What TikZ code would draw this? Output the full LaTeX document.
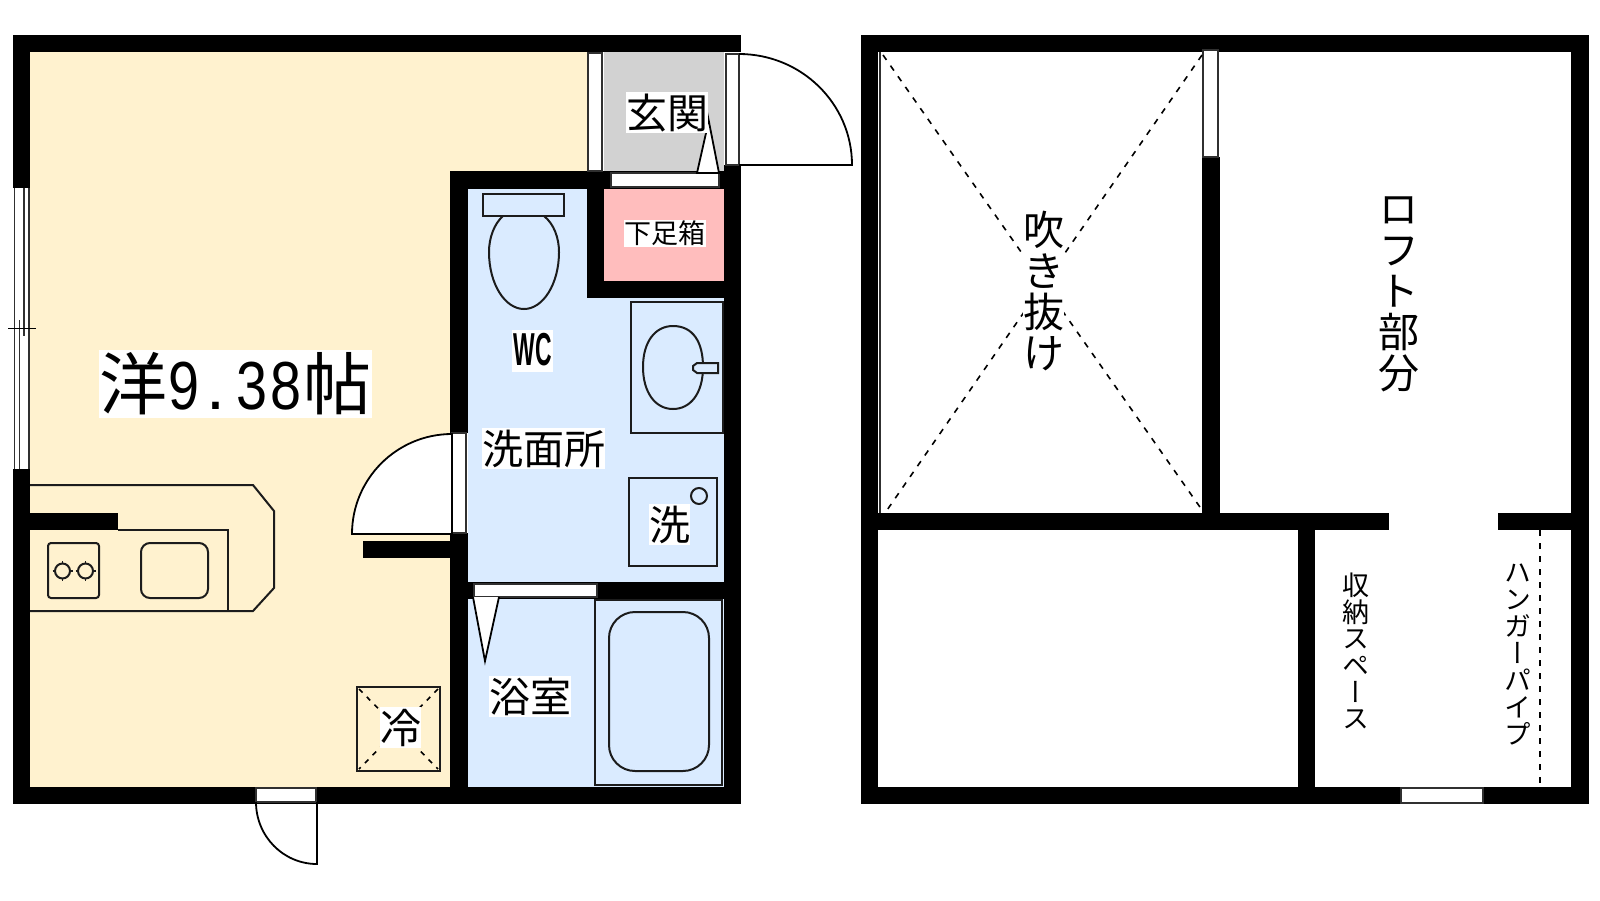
\documentclass[tikz,border=0pt]{standalone}
\usepackage{fontspec}
\usepackage{graphicx}
\setmainfont{Noto Sans CJK JP}
\newfontfamily\latinf{Liberation Sans}
\newfontfamily\vertf[RawFeature=+vert]{Noto Sans CJK JP}
\definecolor{cream}{HTML}{FFF2CF}
\definecolor{bluef}{HTML}{DAEBFF}
\definecolor{pinkf}{HTML}{FFBDBD}
\definecolor{grayf}{HTML}{D2D2D2}
\definecolor{frameline}{HTML}{303030}
\definecolor{fixline}{HTML}{1C1C1C}
\tikzset{
  wallf/.style={fill=black,draw=none},
  thinl/.style={draw=black,line width=1.8pt},
  framel/.style={draw=frameline,line width=1.5pt,fill=white},
  fixl/.style={draw=fixline,line width=2pt},
  dashl/.style={draw=black,line width=1.6pt,dash pattern=on 6pt off 7pt},
  vtext/.style={inner sep=0pt,align=center}
}
\newcommand{\lbl}[7]{\node[fill=white,inner sep=0pt,minimum width=#5pt,minimum height=#6pt,
   text height=#4*0.88 pt,text depth=#4*0.12 pt,font=\fontsize{#4}{#4}\selectfont] (#1) at (#2,#3) {#7};}
\newcommand{\hw}[1]{\makebox[34pt][c]{\latinf\scalebox{.82}[1]{#1}}}
\begin{document}
\begin{tikzpicture}[x=1pt,y=-1pt]
\useasboundingbox (0,0) rectangle (1600,900);
\fill[white] (0,0) rectangle (1600,900);
% room fills
\fill[cream] (30,52) -- (587,52) -- (587,171) -- (450,171) -- (450,787) -- (30,787) -- cycle;
\fill[grayf] (604,52) rectangle (724,171);
\fill[bluef] (468,189) rectangle (724,787);
\fill[pinkf] (604,189) rectangle (724,281);
% walls ground floor
\fill[wallf] (13,35) rectangle (741,52);
\fill[wallf] (13,35) rectangle (30,188);
\fill[wallf] (13,469) rectangle (30,804);
\fill[wallf] (13,787) rectangle (741,804);
\fill[wallf] (724,165) rectangle (741,804);
\fill[wallf] (450,171) rectangle (741,189);
\fill[wallf] (450,171) rectangle (468,433);
\fill[wallf] (450,533) rectangle (468,804);
\fill[wallf] (363,541) rectangle (450,558);
\fill[wallf] (587,171) rectangle (604,298);
\fill[wallf] (587,281) rectangle (741,298);
\fill[wallf] (468,582) rectangle (724,599);
\fill[wallf] (30,513) rectangle (118,530);
% openings ground floor
\draw[framel] (588,53) rectangle (602,171);
\draw[framel] (726,54) rectangle (739,165);
\draw[framel] (611,173) rectangle (719,187);
\draw[framel] (452,433) rectangle (466,533);
\draw[framel] (474,584) rectangle (597,597);
\draw[framel] (256,788) rectangle (316,802);
% left window
\fill[white] (14,188) rectangle (29,469);
\draw[frameline,line width=1.6pt] (14.5,188) -- (14.5,469);
\draw[frameline,line width=1.6pt] (29,188) -- (29,469);
\draw[frameline,line width=1.6pt] (24,188) -- (24,336);
\draw[frameline,line width=1.6pt] (19.5,320) -- (19.5,469);
\draw[thinl] (8,328.5) -- (36,328.5);
% doors
\draw[thinl] (739,54) .. controls (801.4,54) and (852,103.7) .. (852,165) -- (739,165);
\filldraw[thinl,fill=white] (352,534) .. controls (352,478.8) and (396.8,434) .. (452,434) -- (452,534) -- cycle;
\draw[thinl] (256,802) .. controls (256,836) and (283,864) .. (317,864) -- (317,802);
% entrance door wedge
\filldraw[thinl,fill=white] (697,173) -- (706,133) -- (708,117) -- (719,173) -- cycle;
\fill[grayf] (706,133) -- (708,117) -- (704,117) -- (704,133) -- cycle;
% bath door wedge
\filldraw[thinl,fill=white] (473,597) -- (485,661) -- (499,597);
% kitchen
\draw[fixl] (30,485) -- (253,485) -- (274,511) -- (274,588) -- (253,611) -- (30,611);
\draw[fixl] (118,530) -- (228,530) -- (228,611);
\draw[fixl,rounded corners=3pt] (48,543) rectangle (99,598);
\draw[fixl,rounded corners=9pt] (141,543) rectangle (208,598);
\foreach \cx in {62.5,85.5}{
  \draw[fixl,line width=1.5pt] (\cx-10,571) -- (\cx+10,571) (\cx,561) -- (\cx,581);
  \filldraw[fixl,fill=cream] (\cx,571) circle (7.5pt);
}
% fridge
\draw[fixl] (357,687) rectangle (440,771);
\draw[dashl,dash pattern=on 5pt off 6pt] (359,689) -- (438,769);
\draw[dashl,dash pattern=on 5pt off 6pt] (438,689) -- (359,769);
% toilet
\draw[fixl] (483,194) rectangle (564,216);
\draw[fixl] (503,216) .. controls (494,224) and (489,238) .. (489,252)
  .. controls (489,284) and (505,309) .. (524,309)
  .. controls (543,309) and (559,284) .. (559,252)
  .. controls (559,238) and (554,224) .. (544,216);
% sink
\draw[fixl] (631,302) rectangle (723,433);
\draw[fixl] (673,326) .. controls (693,326) and (703,342) .. (703,367)
  .. controls (703,394) and (690,409) .. (673,409)
  .. controls (655,409) and (643,392) .. (643,367)
  .. controls (643,342) and (655,326) .. (673,326) -- cycle;
\filldraw[fixl,fill=bluef] (697,363) -- (718,363) -- (718,373) -- (697,373) -- (693,370) -- (693,366) -- cycle;
% washer
\draw[fixl] (629,478) rectangle (717,566);
\draw[fixl] (699,496) circle (8pt);
% bath
\draw[fixl] (595,600) rectangle (722,785);
\draw[fixl,rounded corners=26pt] (609,612) rectangle (709,771);
% labels ground floor
\lbl{entrance}{667}{112.5}{41}{82}{41}{玄関}
\lbl{shoe}{665}{233.5}{27}{82}{27}{下足箱}
\lbl{wash}{543.5}{448.5}{41}{123}{41}{洗面所}
\lbl{washer}{669.5}{524.5}{41}{41}{41}{洗}
\lbl{bath}{530}{696.5}{41}{82}{41}{浴室}
\lbl{fridge}{400.5}{727.5}{41}{41}{41}{冷}
\node[fill=white,inner sep=0pt,minimum width=41pt,minimum height=42pt,text height=35pt,text depth=7pt,
  font=\fontsize{44}{44}\selectfont\latinf\bfseries] (wc) at (532.5,351) {\scalebox{.52}[1.05]{WC}};
\node[fill=white,inner sep=0pt,minimum width=273pt,minimum height=68pt,text height=59.8pt,text depth=8.2pt,
  font=\fontsize{68}{68}\selectfont] (room) at (235.5,384) {洋\hw{9}\makebox[34pt][l]{\hspace{5pt}\latinf .}\hw{3}\hw{8}帖};
% upper floor walls
\fill[wallf] (861,35) rectangle (1589,52);
\fill[wallf] (861,35) rectangle (878,804);
\fill[wallf] (861,787) rectangle (1589,804);
\fill[wallf] (1571,35) rectangle (1589,804);
\fill[wallf] (878,513) rectangle (1389,530);
\fill[wallf] (1498,513) rectangle (1571,530);
\fill[wallf] (1202,157) rectangle (1220,513);
\fill[wallf] (1298,530) rectangle (1315,787);
\draw[framel] (1203,50) rectangle (1218,157);
\draw[framel] (1401,788) rectangle (1483,803);
\draw[draw=frameline,line width=1.2pt] (880,52) -- (880,513);
% dashed
\draw[dashl] (883,55) -- (1202,510);
\draw[dashl] (1202,55) -- (885,513);
\draw[dashl] (1540,530) -- (1540,787);
% upper labels
\node[fill=white,inner sep=0pt,minimum width=41pt,minimum height=162pt,vtext,font=\fontsize{41}{41}\selectfont] (void) at (1043.5,291) {吹\\き\\抜\\け};
\node[vtext,font=\vertf\fontsize{41}{41}\selectfont] (loft) at (1399,294) {ロ\\フ\\ト\\部\\分};
\node[vtext,font=\vertf\fontsize{27}{26.7}\selectfont] (storage) at (1356,651) {収\\納\\ス\\ペ\\ー\\ス};
\node[vtext,font=\vertf\fontsize{27}{27}\selectfont] (hanger) at (1518,654.5) {ハ\\ン\\ガ\\ー\\パ\\イ\\プ};
\end{tikzpicture}
\end{document}
